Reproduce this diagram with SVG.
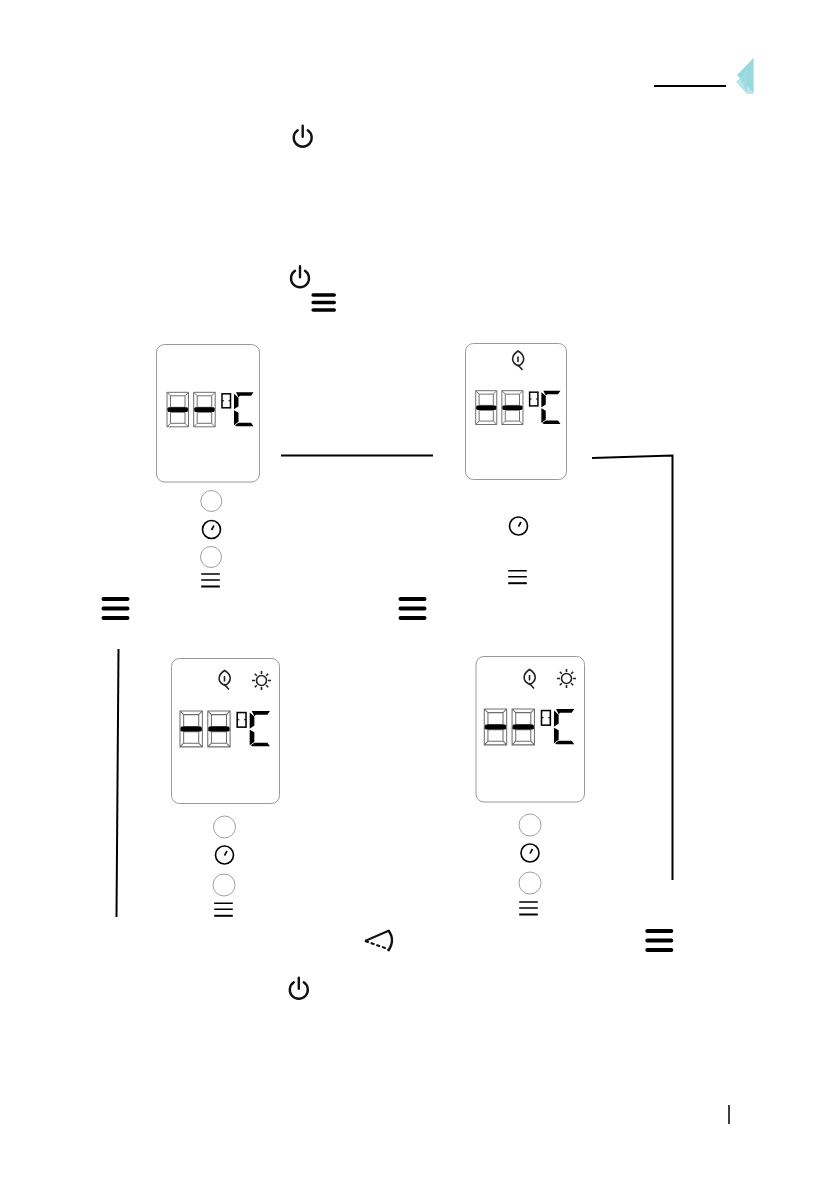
<svg xmlns="http://www.w3.org/2000/svg" width="839" height="1191" viewBox="0 0 839 1191">
<style>
.panel{fill:#fff;stroke:#999;stroke-width:1}
.seg{fill:none;stroke:#6e6e6e;stroke-width:1}
.on{fill:#000;stroke:none}
.btn{fill:#fff;stroke:#a0a0a0;stroke-width:1}
.dial{fill:none;stroke:#000;stroke-width:1.6}
.line{fill:none;stroke:#000;stroke-width:2}
.pw{fill:none;stroke:#111;stroke-width:2.400;stroke-linecap:round}
.bar{stroke:#000;stroke-width:4;stroke-linecap:round}
.thin{stroke:#000;stroke-width:1.400}
.thick{stroke:#000;stroke-width:2}
.ico{fill:none;stroke:#222;stroke-width:1.600}
</style>
<defs>
<g id="digit">
<path class="seg" d="M0 0H21.500V34.500H0ZM3.500 3.500H18V15H3.500ZM3.500 20H18V31H3.500ZM0 0L3.500 3.500M21.500 0L18 3.500M0 34.500L3.500 31M21.500 34.500L18 31"/>
<path class="on" d="M1.500 15H20L21 16V18.500L20 19.800H1.500L.5 18.500V16Z"/>
</g>
<g id="display">
<use href="#digit"/>
<use href="#digit" x="26.700"/>
<rect x="55" y="1.500" width="8.500" height="14" fill="none" stroke="#000" stroke-width="1.500"/>
<path d="M55 8.500H57M61.500 8.500H63.500" stroke="#000" stroke-width="1"/>
<path class="on" d="M69 0H86.500L84 3.500H73L71.500 5ZM67 1.500L71.500 5.500V14L67 17ZM67 18L71.500 20.500V29.500L67 33ZM71.500 30.500H84L86.500 34H69.500L68 33Z"/>
</g>
<g id="power"><path class="pw" d="M-5 -7.500A9 9 0 1 0 5 -7.500M0 -12V-1"/></g>
<g id="menu"><path class="bar" d="M-12 -9.500H12M-12 0H12M-12 9.500H12"/></g>
<g id="topmenu"><path stroke="#000" stroke-width="3.600" stroke-linecap="round" d="M-10.500 -7.500H10.500M-10.500 0H10.500M-10.500 7.500H10.500"/></g>
<g id="smenu"><path class="thin" d="M-9.300 -6H9.300M-9.300 0H9.300"/><path class="thick" d="M-9.300 6.500H9.300"/></g>
<g id="dial"><circle class="dial" r="9"/><path class="dial" d="M0 .5L2.500 -4"/></g>
<g id="leaf"><path class="ico" d="M0 -9.500C7.500 -5 7.500 1.500 .5 5.500C-7.500 2 -7 -5 0 -9.500ZM0 -4V1.500M-.5 4L4.500 9.500"/></g>
<g id="sun"><circle class="ico" r="5"/><path class="ico" d="M0 -9.500V-6.500M0 6.500V9.500M-9.500 0H-6.500M6.500 0H9.500M-6.700 -6.700L-4.700 -4.700M6.700 -6.700L4.700 -4.700M-6.700 6.700L-4.700 4.700M6.700 6.700L4.700 4.700"/></g>
</defs>
<g id="connectors">
<path class="line" d="M654 86H726"/>
<path class="line" d="M281 455.500H433"/>
<path class="line" d="M592 458L672.500 455.500V880"/>
<path class="line" d="M118.500 649L116.500 917"/>
<path d="M729 1105V1124" stroke="#000" stroke-width="1.500"/>
</g>
<g id="corner-mark">
<path d="M753.500 58V93L737 75Z" fill="#a5dfe5"/>
<path d="M736 82L747 71V94Z" fill="#b5e5e9"/>
<path d="M747 65.500L737 75L741.500 80L747 94H753.500V58Z" fill="#8fd5de" opacity=".6"/>
</g>
<use href="#power" x="302.700" y="137.700"/>
<use href="#power" x="300" y="278.300"/>
<use href="#topmenu" x="323.700" y="302.500"/>
<g id="panel-1">
<rect class="panel" x="156.500" y="344.500" width="103" height="137.500" rx="8"/>
<use href="#display" transform="translate(167 392.300)"/>
<circle class="btn" cx="211.300" cy="501" r="10.500"/>
<use href="#dial" x="211.500" y="529.500"/>
<circle class="btn" cx="211" cy="557" r="10.500"/>
<use href="#smenu" x="210.500" y="580"/>
</g>
<g id="panel-2">
<rect class="panel" x="465.500" y="343.500" width="101" height="136" rx="8"/>
<use href="#leaf" x="518" y="360.500"/>
<use href="#display" transform="translate(475.700 390.700) scale(.98)"/>
<use href="#dial" x="518.500" y="526"/>
<use href="#smenu" x="517.500" y="576.700"/>
</g>
<use href="#menu" x="115.500" y="608.500"/>
<use href="#menu" x="412.500" y="608.500"/>
<g id="panel-3">
<rect class="panel" x="171.500" y="658.500" width="108" height="145" rx="8"/>
<use href="#leaf" x="224.500" y="680"/>
<use href="#sun" x="261.500" y="680.500"/>
<use href="#display" transform="translate(180 711) scale(1.040)"/>
<circle class="btn" cx="224.500" cy="827" r="11"/>
<use href="#dial" x="224.500" y="855"/>
<circle class="btn" cx="224" cy="885" r="11"/>
<use href="#smenu" x="223.500" y="909.300"/>
</g>
<g id="panel-4">
<rect class="panel" x="476" y="656.500" width="108.500" height="145.500" rx="8"/>
<use href="#leaf" x="529.500" y="679"/>
<use href="#sun" x="566.500" y="678.500"/>
<use href="#display" transform="translate(484.300 709) scale(1.040)"/>
<circle class="btn" cx="530" cy="825" r="11"/>
<use href="#dial" x="530" y="853"/>
<circle class="btn" cx="530" cy="883" r="11"/>
<use href="#smenu" x="528.500" y="908"/>
</g>
<g id="swing" fill="none" stroke="#111" stroke-width="2">
<path d="M365 941L388 931"/>
<path d="M365 941L388 949" stroke-dasharray="4 2"/>
<path d="M388 930C393.500 937 393.500 943 388 951" stroke-width="2.600"/>
</g>
<use href="#menu" x="659.300" y="940.500"/>
<use href="#power" x="298.800" y="989.800"/>
</svg>
